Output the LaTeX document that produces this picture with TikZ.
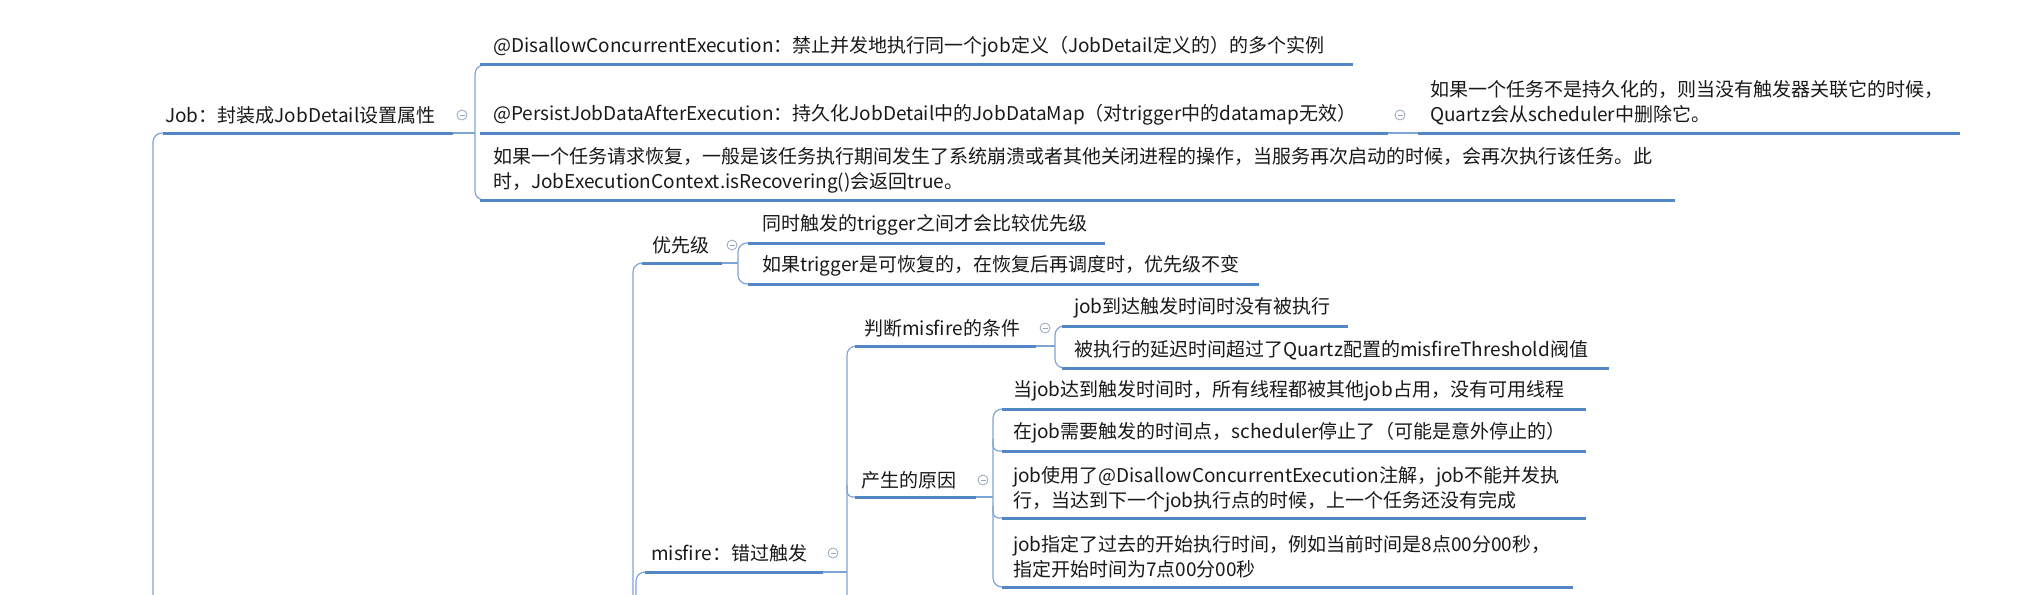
\documentclass[tikz,border=0pt]{standalone}
\usepackage{fontspec}
\setmainfont{Noto Sans CJK SC}
\usepackage{tikz}
\definecolor{ulblue}{RGB}{84,135,200}
\definecolor{lnblue}{RGB}{128,163,214}
\definecolor{foldgray}{RGB}{150,166,188}
\definecolor{ink}{RGB}{25,25,25}
\tikzset{
  topic/.style={anchor=west, inner sep=0pt, align=left, text=ink, font=\fontsize{19}{25}\selectfont},
  uline/.style={draw=ulblue, line width=3pt},
  conn/.style={draw=lnblue, line width=1.2pt, rounded corners=9pt},
  fold/.style={circle, draw=foldgray, line width=0.8pt, minimum size=10pt, inner sep=0pt,
    path picture={\draw[foldgray, line width=0.8pt] ([xshift=-2.5pt]path picture bounding box.center) -- ([xshift=2.5pt]path picture bounding box.center);}}
}

\begin{document}
\begin{tikzpicture}[x=1pt, y=-1pt]
            \useasboundingbox (0,0) rectangle (2028,594);
            \draw[conn] (153,600) |- (175,133);
            \draw[conn] (453,133) -- (475,133);
            \draw[conn] (492,65) -| (475,133) |- (492,200);
            \draw[conn] (1388,133) -- (1418,133);
            \draw[conn] (633,600) |- (655,263);
            \draw[conn] (722,263) -- (738,263);
            \draw[conn] (755,243) -| (738,263) |- (755,284);
            \draw[conn] (636,600) |- (655,572);
            \draw[conn] (823,572) -- (847,572);
            \draw[conn] (847,600) |- (867,346);
            \draw[conn, rounded corners=6pt] (847,485) |- (860,497);
            \draw[conn] (1036,346) -- (1055,346);
            \draw[conn] (1072,326) -| (1055,346) |- (1072,368);
            \draw[conn] (976,497) -- (993,497);
            \draw[conn] (1010,409) -| (993,497) |- (1010,587);
            \draw[conn, rounded corners=6pt] (993,439) |- (1006,451);
            \draw[conn, rounded corners=6pt] (993,506) |- (1006,518);
            \draw[uline] (163,133) -- (453,133);
            \draw[uline] (480,65) -- (1353,65);
            \draw[uline] (480,133) -- (1388,133);
            \draw[uline] (1418,133) -- (1960,133);
            \draw[uline] (480,200) -- (1675,200);
            \draw[uline] (642,263) -- (722,263);
            \draw[uline] (748,243) -- (1105,243);
            \draw[uline] (748,284) -- (1259,284);
            \draw[uline] (645,572) -- (823,572);
            \draw[uline] (855,346) -- (1036,346);
            \draw[uline] (1062,326) -- (1348,326);
            \draw[uline] (1062,368) -- (1609,368);
            \draw[uline] (855,497) -- (976,497);
            \draw[uline] (1002,409) -- (1586,409);
            \draw[uline] (1002,451) -- (1586,451);
            \draw[uline] (1002,518) -- (1586,518);
            \draw[uline] (1002,587) -- (1573,587);
            \node[topic] (job) at (165,115) {Job：封装成JobDetail设置属性};
            \node[topic] (disallow) at (493,47) {@DisallowConcurrentExecution：禁止并发地执行同一个job定义（JobDetail定义的）的多个实例};
            \node[topic] (persist) at (493,115) {@PersistJobDataAfterExecution：持久化JobDetail中的JobDataMap（对trigger中的datamap无效）};
            \node[topic] (recover) at (493,170) {如果一个任务请求恢复，一般是该任务执行期间发生了系统崩溃或者其他关闭进程的操作，当服务再次启动的时候，会再次执行该任务。此\\时，JobExecutionContext.isRecovering()会返回true。};
            \node[topic] (persistnote) at (1430,102.5) {如果一个任务不是持久化的，则当没有触发器关联它的时候，\\Quartz会从scheduler中删除它。};
            \node[topic] (prio) at (652,245) {优先级};
            \node[topic] (prio1) at (762,225) {同时触发的trigger之间才会比较优先级};
            \node[topic] (prio2) at (762,266) {如果trigger是可恢复的，在恢复后再调度时，优先级不变};
            \node[topic] (judge) at (864,328) {判断misfire的条件};
            \node[topic] (judge1) at (1074,308) {job到达触发时间时没有被执行};
            \node[topic] (judge2) at (1074,350) {被执行的延迟时间超过了Quartz配置的misfireThreshold阀值};
            \node[topic] (cause) at (861,480) {产生的原因};
            \node[topic] (cause1) at (1013,391) {当job达到触发时间时，所有线程都被其他job占用，没有可用线程};
            \node[topic] (cause2) at (1013,433) {在job需要触发的时间点，scheduler停止了（可能是意外停止的）};
            \node[topic] (cause3) at (1013,489.5) {job使用了@DisallowConcurrentExecution注解，job不能并发执\\行，当达到下一个job执行点的时候，上一个任务还没有完成};
            \node[topic] (cause4) at (1013,556.5) {job指定了过去的开始执行时间，例如当前时间是8点00分00秒，\\指定开始时间为7点00分00秒};
            \node[topic] (misfire) at (651,553) {misfire：错过触发};
            \node[fold] (jobf) at (462,115) {};
            \node[fold] (persistf) at (1400,115) {};
            \node[fold] (priof) at (732,245) {};
            \node[fold] (judgef) at (1045,328) {};
            \node[fold] (causef) at (983,480) {};
            \node[fold] (misfiref) at (833,553) {};
            \end{tikzpicture}
\end{document}
